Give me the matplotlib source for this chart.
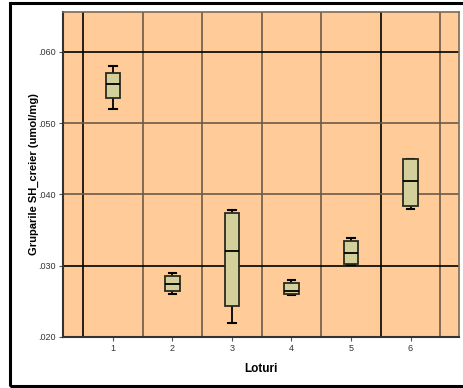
import matplotlib
matplotlib.use("Agg")
import matplotlib.pyplot as plt
from matplotlib.patches import Rectangle

plt.rcParams['font.family'] = ['Liberation Sans', 'DejaVu Sans']

groups = [1, 2, 3, 4, 5, 6]
whislo = [0.0520, 0.0261, 0.0220, 0.02595, 0.0301, 0.0379]
q1 = [0.0535, 0.0265, 0.0244, 0.0260, 0.0303, 0.0384]
med = [0.0555, 0.0274, 0.0320, 0.0265, 0.0318, 0.0419]
q3 = [0.0570, 0.0285, 0.0374, 0.0276, 0.0334, 0.0450]
whishi = [0.0580, 0.0290, 0.0378, 0.0280, 0.0339, 0.0450]
yticks = [0.020, 0.030, 0.040, 0.050, 0.060]
ytick_labels = ['.020', '.030', '.040', '.050', '.060']

W, H = 464, 388
fig = plt.figure(figsize=(W / 100, H / 100), dpi=100)
fig.patch.set_facecolor('white')

# outer frame
fig.patches.append(Rectangle((10.5 / W, 1 - 386 / H), (470 - 10) / W, (386 - 3) / H,
                             transform=fig.transFigure, fill=False,
                             edgecolor='black', linewidth=2.2, clip_on=False))

left, right, top, bottom = 63, 459, 12, 337
ax = fig.add_axes([left / W, 1 - bottom / H, (right - left) / W, (bottom - top) / H])
ax.set_facecolor('#FFCC99')

ax.set_xlim(0.16, 6.815)
ax.set_ylim(0.020, 0.0656)

# grid lines
vcols = ['black', '#6b5a48', '#6b5a48', '#6b5a48', '#6b5a48', 'black', '#6b5a48']
for i, xv in enumerate([0.5, 1.5, 2.5, 3.5, 4.5, 5.5, 6.5]):
    ax.axvline(xv, color=vcols[i], lw=1.2, zorder=1)
hcols = {0.030: 'black', 0.040: '#6b5a48', 0.050: '#6b5a48', 0.060: 'black'}
for yv, c in hcols.items():
    ax.axhline(yv, color=c, lw=1.2, zorder=1)

stats = []
for i in range(len(groups)):
    stats.append(dict(whislo=whislo[i], q1=q1[i], med=med[i], q3=q3[i],
                      whishi=whishi[i], fliers=[], label=str(groups[i])))
bp = ax.bxp(stats, positions=groups, widths=0.25, patch_artist=True,
            showfliers=False, manage_ticks=False,
            boxprops=dict(facecolor='#D4D09C', edgecolor='#2b2b1e', linewidth=1.3),
            medianprops=dict(color='black', linewidth=1.3),
            whiskerprops=dict(color='black', linewidth=1.3),
            capprops=dict(color='black', linewidth=1.5), capwidths=0.12)
for b in bp['boxes']:
    b.set_zorder(3)
for m in bp['medians']:
    m.set_zorder(4)
for w in bp['whiskers'] + bp['caps']:
    w.set_zorder(2)

ax.set_xticks(groups)
ax.set_xticklabels([str(g) for g in groups])
ax.set_yticks(yticks)
ax.set_yticklabels(ytick_labels)
ax.tick_params(axis='both', labelsize=6.5, length=3, width=0.8, color='#555555',
               labelcolor='#333333', pad=2)

for s in ['left', 'bottom']:
    ax.spines[s].set_color('#333333')
    ax.spines[s].set_linewidth(1.5)
for s in ['right', 'top']:
    ax.spines[s].set_color('#7a6a58')
    ax.spines[s].set_linewidth(1.2)

ax.set_xlabel('Loturi', fontsize=8.5, fontweight='bold')
ax.xaxis.set_label_coords(0.5, -(363 - 337) / (bottom - top), transform=ax.transAxes)
ax.set_ylabel('Gruparile SH_creier (umol/mg)', fontsize=8, fontweight='bold')
ax.yaxis.set_label_coords(-(63 - 39) / (right - left), 0.5, transform=ax.transAxes)

fig.savefig('out.png', dpi=100)
